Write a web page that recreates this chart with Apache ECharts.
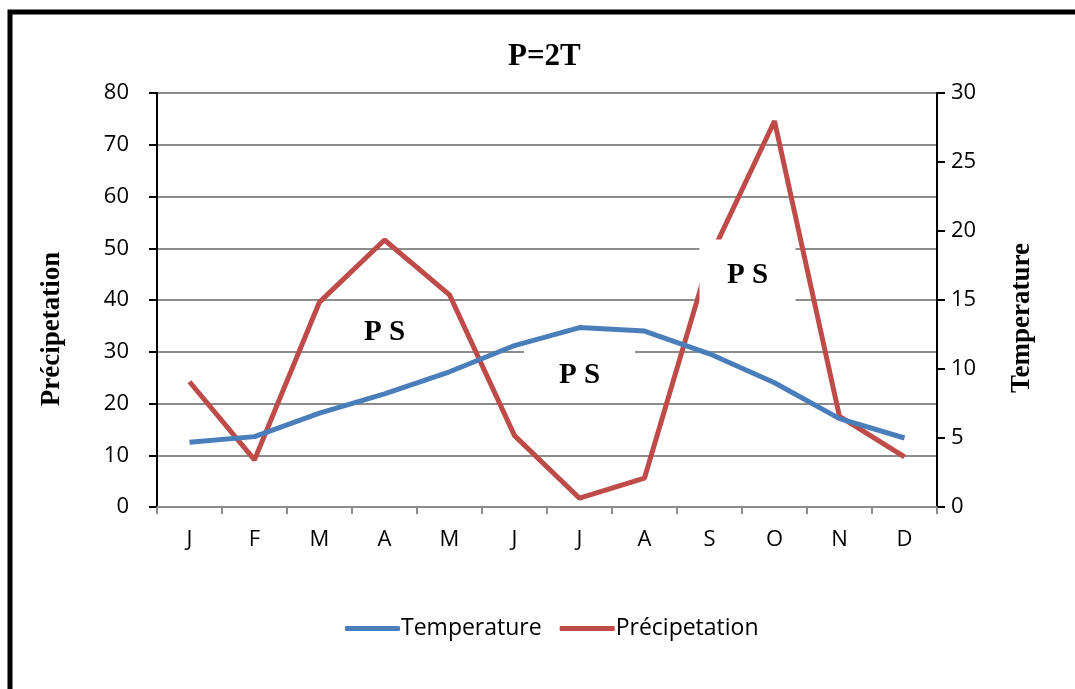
<!DOCTYPE html>
<html>
<head>
<meta charset="utf-8">
<script src="https://cdn.jsdelivr.net/npm/echarts@6/dist/echarts.min.js"></script>
<style>
html,body{margin:0;padding:0;background:#fff;}
#chart{width:1075px;height:689px;}
</style>
</head>
<body>
<div id="chart"></div>
<script>
const months = ['J','F','M','A','M','J','J','A','S','O','N','D'];
const temperature = [4.7, 5.1, 6.8, 8.2, 9.8, 11.7, 13.0, 12.75, 11.1, 9.0, 6.4, 5.0];
const precipitation = [24.2, 9.1, 39.6, 51.6, 41.0, 13.8, 1.7, 5.6, 48.0, 74.6, 17.5, 9.7];
const leftTicks = {min: 0, max: 80, interval: 10};
const rightTicks = {min: 0, max: 30, interval: 5};
// annotation anchors: [category index, precipitation value, label]
const notes = [[3, 33.8, 'P S'], [6, 25.5, 'P S'], [8, 45.5, 'P S']];

const chart = echarts.init(document.getElementById('chart'), null, {renderer: 'canvas'});
const serif = "'Liberation Serif', 'Times New Roman', serif";
const sans = "'Open Sans', 'Noto Sans', sans-serif";
const noteOffsets = [[0, 0], [0, 0], [38, 0]];
const noteSizes = [[100, 34], [111, 56], [96, 64]];
const noteLabelOffsets = [[0, 0], [0, 0], [0, 4]];

chart.setOption({
  animation: false,
  backgroundColor: '#fff',
  title: {
    text: 'P=2T',
    left: 503,
    top: 36,
    textStyle: {fontFamily: serif, fontWeight: 'bold', fontSize: 31, color: '#000'}
  },
  graphic: [{
    type: 'rect',
    shape: {x: 10, y: 12, width: 1200, height: 800},
    style: {fill: null, stroke: '#000', lineWidth: 5},
    silent: true, z: 100
  }],
  legend: {
    left: 340,
    top: 612,
    itemWidth: 55,
    itemHeight: 5,
    itemGap: 18,
    icon: 'roundRect',
    textStyle: {fontFamily: sans, fontSize: 23, color: '#000', padding: [0, 0, 0, -4]},
    data: ['Temperature', 'Précipetation']
  },
  grid: {left: 157, right: 138, top: 93, bottom: 182},
  xAxis: {
    type: 'category',
    data: months,
    boundaryGap: true,
    axisLine: {show: true, lineStyle: {color: '#8c8c8c', width: 2}},
    axisTick: {show: true, length: 7, lineStyle: {color: '#8c8c8c', width: 2}},
    axisLabel: {fontFamily: sans, fontSize: 22, color: '#000', margin: 22}
  },
  yAxis: [{
    type: 'value',
    min: leftTicks.min, max: leftTicks.max, interval: leftTicks.interval,
    name: 'Précipetation',
    nameLocation: 'middle',
    nameRotate: 90,
    nameGap: 91,
    nameTextStyle: {fontFamily: serif, fontWeight: 'bold', fontSize: 27, color: '#000', padding: [0, 58, 0, 0]},
    axisLine: {show: true, lineStyle: {color: '#000', width: 2}},
    axisTick: {show: true, length: 8, lineStyle: {color: '#000', width: 2}},
    axisLabel: {fontFamily: sans, fontSize: 22, color: '#000', margin: 28},
    splitLine: {show: true, lineStyle: {color: '#8c8c8c', width: 2}}
  }, {
    type: 'value',
    position: 'right',
    min: rightTicks.min, max: rightTicks.max, interval: rightTicks.interval,
    name: 'Temperature',
    nameLocation: 'middle',
    nameRotate: 90,
    nameGap: 72,
    nameTextStyle: {fontFamily: serif, fontWeight: 'bold', fontSize: 27, color: '#000', padding: [0, 36, 0, 0]},
    axisLine: {show: true, lineStyle: {color: '#000', width: 2}},
    axisTick: {show: true, length: 8, lineStyle: {color: '#000', width: 2}},
    axisLabel: {fontFamily: sans, fontSize: 22, color: '#000', margin: 14},
    splitLine: {show: false}
  }],
  series: [{
    name: 'Précipetation',
    type: 'line',
    yAxisIndex: 0,
    data: precipitation,
    symbol: 'none',
    lineStyle: {color: '#BE4B48', width: 5},
    itemStyle: {color: '#BE4B48'},
    z: 2,
    markPoint: {
      silent: true,
      data: notes.map((n, i) => ({
        coord: [n[0], n[1]],
        symbol: 'rect',
        symbolSize: noteSizes[i],
        symbolOffset: noteOffsets[i],
        itemStyle: {color: '#fff'},
        label: {
          show: true, position: 'inside', formatter: n[2], offset: noteLabelOffsets[i],
          fontFamily: serif, fontWeight: 'bold', fontSize: 29, color: '#000'
        }
      }))
    }
  }, {
    name: 'Temperature',
    type: 'line',
    yAxisIndex: 1,
    data: temperature,
    symbol: 'none',
    lineStyle: {color: '#4A7EBB', width: 5},
    itemStyle: {color: '#4A7EBB'},
    z: 3
  }]
});
</script>
</body>
</html>
